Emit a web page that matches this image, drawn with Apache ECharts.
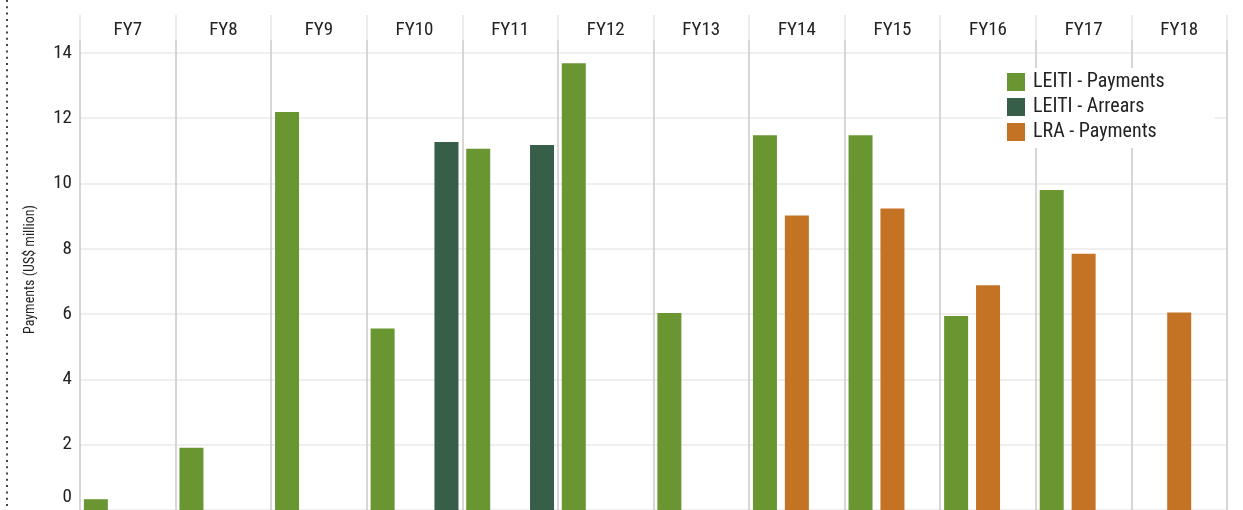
<!DOCTYPE html>
<html>
<head>
<meta charset="utf-8">
<script src="https://cdn.jsdelivr.net/npm/echarts@6/dist/echarts.min.js"></script>
<style>
html,body{margin:0;padding:0;background:#fff;}
#chart{width:1243px;height:510px;}
</style>
</head>
<body>
<div id="chart"></div>
<script>
const categories = ['FY7','FY8','FY9','FY10','FY11','FY12','FY13','FY14','FY15','FY16','FY17','FY18'];
const leitiPayments = [0.33, 1.91, 12.19, 5.56, 11.06, 13.68, 6.03, 11.48, 11.48, 5.94, 9.80, null];
const leitiArrears  = [null, null, null, 11.27, 11.18, null, null, null, null, null, null, null];
const lraPayments   = [null, null, null, null, null, null, null, 9.02, 9.23, 6.88, 7.85, 6.05];
const yTicks = [0, 2, 4, 6, 8, 10, 12, 14];

const FONT = "'Liberation Sans Narrow', 'Roboto Condensed', 'Arial Narrow', 'DejaVu Sans Condensed', sans-serif";
const chart = echarts.init(document.getElementById('chart'), null, {renderer: 'canvas'});

const sepColor = {
  type: 'linear', x: 0, y: 15, x2: 0, y2: 510, global: true,
  colorStops: [
    {offset: 0, color: '#e6e6e6'},
    {offset: 0.05, color: '#e6e6e6'},
    {offset: 0.0505, color: '#c9c9c9'},
    {offset: 1, color: '#c9c9c9'}
  ]
};

const option = {
  animation: false,
  backgroundColor: '#ffffff',
  textStyle: {fontFamily: FONT},
  grid: {left: 80, right: 16, top: 15, bottom: -1.5, containLabel: false},
  legend: {
    orient: 'vertical',
    left: 1002, top: 68,
    data: ['LEITI - Payments', 'LEITI - Arrears', 'LRA - Payments'],
    itemWidth: 18, itemHeight: 18, itemGap: 5,
    icon: 'rect',
    backgroundColor: '#ffffff',
    padding: [4, 50, 6, 5],
    textStyle: {fontFamily: FONT, fontSize: 20, color: '#222', padding: [0, 0, 0, 3]}
  },
  xAxis: {
    type: 'category',
    position: 'top',
    data: categories,
    axisLine: {show: false},
    axisTick: {show: false},
    axisLabel: {inside: true, margin: 6, fontSize: 19, color: '#222', fontFamily: FONT, interval: 0},
    splitLine: {show: true, interval: 0, lineStyle: {color: sepColor, width: 1.5}}
  },
  yAxis: {
    type: 'value',
    min: 0, max: 15.16, interval: 2,
    name: 'Payments (US$ million)',
    nameLocation: 'middle',
    nameGap: 43,
    nameTextStyle: {fontFamily: FONT, fontSize: 14, color: '#222', padding: [0, 0, 0, -14]},
    axisLine: {show: false},
    axisTick: {show: false},
    axisLabel: {
      showMaxLabel: false,
      margin: 8,
      fontSize: 19, color: '#222', fontFamily: FONT,
      formatter: function (v) {
        if (yTicks.indexOf(v) < 0) return '';
        return v === 0 ? '{z|0}' : String(v);
      },
      rich: {z: {fontSize: 19, color: '#222', fontFamily: FONT, padding: [0, 0, 26, 0]}}
    },
    splitLine: {show: true, showMaxLine: false, lineStyle: {color: '#efefef', width: 2}}
  },
  series: [
    {name: 'LEITI - Payments', type: 'bar', data: leitiPayments, barWidth: 24, barGap: '33%',
     itemStyle: {color: '#6a9631'}},
    {name: 'LRA - Payments', type: 'bar', data: lraPayments, barWidth: 24, barGap: '33%',
     itemStyle: {color: '#c47324'}},
    {name: 'LEITI - Arrears', type: 'bar', data: leitiArrears, barWidth: 24, barGap: '33%',
     itemStyle: {color: '#365e48'}}
  ],
  graphic: [{
    type: 'line', silent: true,
    shape: {x1: 7, y1: 0, x2: 7, y2: 510},
    style: {stroke: '#444', lineWidth: 2, lineDash: [2, 4.3]}
  }]
};
chart.setOption(option);
</script>
</body>
</html>
